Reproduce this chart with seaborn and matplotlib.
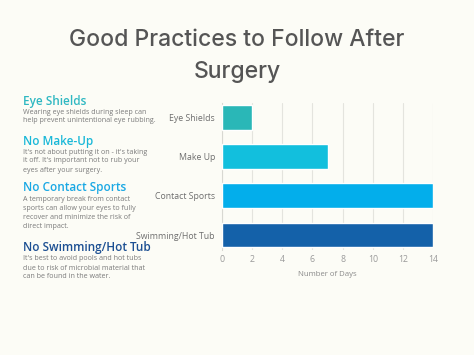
import matplotlib
matplotlib.use('Agg')
import matplotlib.pyplot as plt
import seaborn as sns
import pandas as pd

# data
practices = ['Eye Shields', 'Make Up', 'Contact Sports', 'Swimming/Hot Tub']
days = [2, 7, 14, 14]
bar_colors = ['#2ab7b7', '#12bfdd', '#03aeeb', '#1461a9']
x_ticks = [0, 2, 4, 6, 8, 10, 12, 14]

headings = ['Eye Shields', 'No Make-Up', 'No Contact Sports', 'No Swimming/Hot Tub']
heading_colors = ['#2fb8c2', '#1ab8d8', '#1aa8e4', '#1c4f92']
notes = [
    'Wearing eye shields during sleep can\nhelp prevent unintentional eye rubbing.',
    "It's not about putting it on - it's taking\nit off. It's important not to rub your\neyes after your surgery.",
    'A temporary break from contact\nsports can allow your eyes to fully\nrecover and minimize the risk of\ndirect impact.',
    "It's best to avoid pools and hot tubs\ndue to risk of microbial material that\ncan be found in the water.",
]

df = pd.DataFrame({'practice': practices, 'days': days})

sns.set_style('white')
plt.rcParams['font.family'] = ['Open Sans', 'DejaVu Sans']
bg = '#fcfcf6'

fig = plt.figure(figsize=(4.74, 3.55), dpi=100, facecolor=bg)
ax = fig.add_axes([0.468, 0.296, 0.446, 0.414], facecolor=bg)

sns.barplot(data=df, x='days', y='practice', hue='practice', palette=bar_colors,
            orient='h', width=0.63, saturation=1, legend=False, ax=ax, zorder=3)

ax.set_xlim(0, 14)
ax.set_ylim(3.38, -0.37)
ax.set_xticks(x_ticks)
ax.set_xticklabels([str(t) for t in x_ticks], color='#9a9a9a', fontsize=6.3)
ax.tick_params(axis='y', labelsize=6.3, labelcolor='#6e6e6e', length=0, pad=5)
ax.tick_params(axis='x', length=0, pad=4)
ax.set_ylabel('')
ax.set_xlabel('Number of Days', fontsize=5.6, color='#8a8a8a', labelpad=5)
ax.grid(axis='x', color='#e4e4de', linewidth=0.8, zorder=0)
for s in ['top', 'right', 'bottom']:
    ax.spines[s].set_visible(False)
ax.spines['left'].set_color('#d8d8d2')
ax.spines['left'].set_linewidth(0.8)

# title
fig.text(0.5, 0.887, 'Good Practices to Follow After', ha='center', va='center',
         fontsize=16.5, color='#555555', fontfamily=['Inter', 'DejaVu Sans'], fontweight='medium')
fig.text(0.5, 0.797, 'Surgery', ha='center', va='center',
         fontsize=16.5, color='#555555', fontfamily=['Inter', 'DejaVu Sans'], fontweight='medium')

# side notes
head_y = [101, 141, 188, 248]
for h, c, n, y in zip(headings, heading_colors, notes, head_y):
    fig.text(23 / 474, 1 - y / 355, h, ha='left', va='center', fontsize=8.5,
             color=c, fontweight='semibold')
    fig.text(23 / 474, 1 - (y + 7.5) / 355, n, ha='left', va='top', fontsize=5.1,
             color='#7a7a7a', linespacing=1.4)

fig.savefig('out.png', dpi=100, facecolor=bg)
